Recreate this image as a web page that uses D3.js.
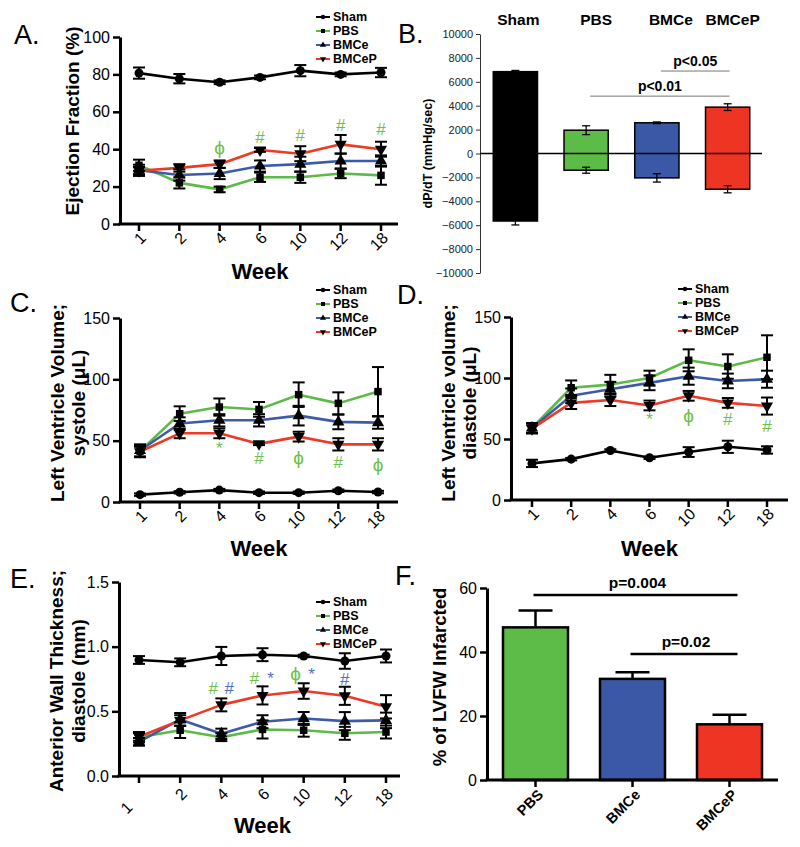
<!DOCTYPE html>
<html>
<head>
<meta charset="utf-8">
<script src="https://cdn.jsdelivr.net/npm/d3@7"></script>
<style>
  body { margin: 0; background: #fff; }
  svg { display: block; font-family: "Liberation Sans", Arial, sans-serif; }
</style>
</head>
<body>
<svg width="800" height="847"></svg>
<script>
const weeks = ['1', '2', '4', '6', '10', '12', '18'];
const groups = ['Sham', 'PBS', 'BMCe', 'BMCeP'];

// A. ejection fraction (%), rows follow groups
const efMean = [
  [80.7, 77.7, 75.8, 78.4, 82, 80, 81],
  [31.4, 22, 18.5, 25, 25, 27, 26],
  [28.7, 26.2, 27, 31, 32, 33.7, 33.7],
  [28.5, 30, 32, 39.6, 37.6, 42.6, 40]
];
const efErr = [
  [3, 2.5, 1, 1, 3, 1, 2.5],
  [3, 3, 1.5, 2.5, 3, 2.5, 5],
  [3, 3, 3, 3, 4, 4, 3],
  [2, 2, 2, 1, 4, 5, 4]
];
const efTicks = [0, 20, 40, 60, 80, 100];
const efMarks = [['4', 41, 'ϕ', 'g'], ['6', 46.5, '#', 'g'], ['10', 47.4, '#', 'g'], ['12', 52.8, '#', 'g'], ['18', 51, '#', 'g']];

// C. LV volume, systole (uL)
const lvsMean = [
  [6, 7.9, 9.7, 7.6, 7.6, 9.2, 8.1],
  [41.5, 72, 77.4, 75.5, 87.5, 80.4, 90],
  [42, 64, 66.6, 66.6, 70.4, 65.3, 64.7],
  [41, 56, 56, 47.4, 53.3, 47, 47]
];
const lvsErr = [
  [1, 1, 1, 1, 1, 1, 1],
  [5, 6, 7, 6, 10, 9, 20],
  [5, 5, 5, 5, 8, 6, 5],
  [4, 4, 4, 1, 4, 5, 5]
];
const lvsTicks = [0, 50, 100, 150];
const lvsMarks = [['4', 43.9, '*', 'g'], ['6', 35.7, '#', 'g'], ['10', 36.5, 'ϕ', 'g'], ['12', 32.2, '#', 'g'], ['18', 30.3, 'ϕ', 'g']];

// D. LV volume, diastole (uL)
const lvdMean = [
  [30, 33.5, 40.6, 34.6, 39.3, 43.6, 41],
  [59, 92, 94.6, 100, 114.5, 109.4, 117],
  [59, 85.4, 90.8, 96, 101.5, 97.6, 99],
  [58.5, 79.6, 82, 77.5, 85.4, 79.6, 77]
];
const lvdErr = [
  [3, 1, 1, 1, 4, 5, 3],
  [4, 6, 8, 6, 9, 10, 18],
  [4, 6, 6, 6, 7, 6, 7],
  [4, 5, 5, 4, 4, 4, 7]
];
const lvdTicks = [0, 50, 100, 150];
const lvdMarks = [['6', 66, '*', 'g'], ['10', 69, 'ϕ', 'g'], ['12', 66.3, '#', 'g'], ['18', 60.5, '#', 'g']];

// E. anterior wall thickness, diastole (mm)
const awMean = [
  [0.897, 0.879, 0.928, 0.938, 0.928, 0.889, 0.928],
  [0.3, 0.354, 0.3, 0.36, 0.354, 0.33, 0.34],
  [0.264, 0.437, 0.326, 0.42, 0.445, 0.424, 0.43],
  [0.303, 0.43, 0.55, 0.623, 0.657, 0.62, 0.535]
];
const awErr = [
  [0.03, 0.03, 0.07, 0.05, 0.01, 0.06, 0.05],
  [0.04, 0.06, 0.03, 0.07, 0.05, 0.05, 0.05],
  [0.03, 0.05, 0.04, 0.05, 0.05, 0.07, 0.06],
  [0.03, 0.04, 0.05, 0.07, 0.06, 0.07, 0.09]
];
const awTicks = [0, 0.5, 1.0, 1.5];
const awMarks = [
  ['4', 0.683, '#', 'g', -8], ['4', 0.683, '#', 'b', 8],
  ['6', 0.755, '#', 'g', -8], ['6', 0.755, '*', 'b', 8],
  ['10', 0.79, 'ϕ', 'g', -8], ['10', 0.79, '*', 'b', 8],
  ['12', 0.75, '#', 'b', 0]
];

// B. dP/dT (mmHg/sec)
const dpMax = [6850, 1950, 2570, 3880];
const dpMaxErr = [100, 370, 70, 280];
const dpMin = [-5650, -1400, -2040, -2990];
const dpMinErr = [330, 250, 350, 300];
const dpTicks = [-10000, -8000, -6000, -4000, -2000, 0, 2000, 4000, 6000, 8000, 10000];
const dpSig = [['BMCe', 'BMCeP', 'p<0.05', 6900], ['PBS', 'BMCeP', 'p<0.01', 4800]];

// F. % of LVFW infarcted
const infGroups = ['PBS', 'BMCe', 'BMCeP'];
const infMean = [47.7, 31.6, 17.4];
const infErr = [5.3, 2.1, 3.0];
const infTicks = [0, 20, 40, 60];
const infSig = [['PBS', 'BMCeP', 'p=0.004', 57.8], ['BMCe', 'BMCeP', 'p=0.02', 39.4]];

const lineColors = ['#000000', '#5cba47', '#3b5aa8', '#ec3a25'];
const barColors = ['#000000', '#5dbb47', '#3b58a6', '#ee3524'];
const markColors = { g: '#6cc04d', b: '#5070c4' };
const symbols = [d3.symbolCircle, d3.symbolSquare, d3.symbolTriangle, d3.symbolTriangle];
const symRot = [0, 0, 0, 180];

const svg = d3.select('svg');

const drawLinePanel = p => {
    const g = svg.append('g');
    const x = d3.scalePoint().domain(weeks).range(p.xRange);
    const y = d3.scaleLinear().domain(p.yDomain).range(p.yRange);
    const y0 = p.yRange[0];

    // y axis
    const ya = g.append('g')
            .attr('transform', `translate(${p.axisX},0)`)
            .call(d3.axisLeft(y).tickValues(p.yTicks).tickFormat(p.fmt).tickSize(7).tickSizeOuter(0));
    ya.select('.domain').attr('stroke-width', 3);
    ya.selectAll('.tick line').attr('stroke-width', 2.5);
    ya.selectAll('.tick text')
            .attr('font-size', 16)
            .attr('font-family', '"Liberation Sans", Arial, sans-serif');

    // x axis
    g.append('line')
            .attr('x1', p.axisX - 1.5).attr('x2', p.axisEnd)
            .attr('y1', y0).attr('y2', y0)
            .attr('stroke', '#000').attr('stroke-width', 3);
    g.selectAll('.xt').data(weeks).enter().append('line')
            .attr('x1', d => x(d)).attr('x2', d => x(d))
            .attr('y1', y0).attr('y2', y0 + 7)
            .attr('stroke', '#000').attr('stroke-width', 2.5);
    g.selectAll('.xl').data(weeks).enter().append('text')
            .attr('transform', d => `translate(${x(d) + 4},${y0 + p.labelDrop}) rotate(-45)`)
            .attr('text-anchor', 'end')
            .attr('dy', '0.35em')
            .attr('dx', (d, i) => (i === 0 ? p.firstShift || 0 : 0))
            .attr('font-size', 16)
            .text(d => d);

    g.append('text')
            .attr('x', (p.xRange[0] + p.xRange[1]) / 2)
            .attr('y', p.weekY)
            .attr('text-anchor', 'middle')
            .attr('font-size', 22).attr('font-weight', 'bold')
            .text('Week');

    // y title
    p.title.forEach((t, i) => {
        g.append('text')
                .attr('transform', `translate(${p.titleX[i]},${p.titleY}) rotate(-90)`)
                .attr('text-anchor', 'middle')
                .attr('dy', '0.35em')
                .attr('font-size', 19).attr('font-weight', 'bold')
                .text(t);
    });

    // lines
    const line = d3.line().x((d, j) => x(weeks[j])).y(d => y(d));
    p.means.forEach((m, i) => {
        g.append('path').datum(m)
                .attr('fill', 'none')
                .attr('stroke', lineColors[i])
                .attr('stroke-width', 2.6)
                .attr('stroke-linejoin', 'round')
                .attr('d', line);
    });

    // error bars and markers
    p.means.forEach((m, i) => {
        const eb = g.append('g').attr('stroke', '#000').attr('stroke-width', 2);
        m.forEach((v, j) => {
            const e = p.errs[i][j], cx = x(weeks[j]);
            eb.append('line').attr('x1', cx).attr('x2', cx).attr('y1', y(v - e)).attr('y2', y(v + e));
            [v - e, v + e].forEach(t => {
                eb.append('line').attr('x1', cx - 6).attr('x2', cx + 6).attr('y1', y(t)).attr('y2', y(t));
            });
        });
        g.selectAll(null).data(m).enter().append('path')
                .attr('d', d3.symbol().type(symbols[i]).size(i === 1 ? 56 : 64))
                .attr('transform', (d, j) => `translate(${x(weeks[j])},${y(d)}) rotate(${symRot[i]})`)
                .attr('fill', '#000');
    });

    // significance marks
    g.selectAll('.mk').data(p.marks).enter().append('text')
            .attr('x', d => x(d[0]) + (d[4] || 0))
            .attr('y', d => y(d[1]))
            .attr('dy', '0.35em')
            .attr('text-anchor', 'middle')
            .attr('font-size', d => (d[2] === 'ϕ' ? 19 : 17))
            .attr('fill', d => markColors[d[3]])
            .text(d => d[2]);

    // legend
    const lg = g.append('g').attr('transform', `translate(${p.legend[0]},${p.legend[1]})`);
    groups.forEach((name, i) => {
        const ly = i * 14;
        lg.append('line').attr('x1', 0).attr('x2', 14).attr('y1', ly).attr('y2', ly)
                .attr('stroke', lineColors[i]).attr('stroke-width', 2);
        lg.append('path')
                .attr('d', d3.symbol().type(symbols[i]).size(16))
                .attr('transform', `translate(7,${ly}) rotate(${symRot[i]})`);
        lg.append('text').attr('x', 17).attr('y', ly).attr('dy', '0.35em')
                .attr('font-size', 12.5).attr('font-weight', 'bold')
                .text(name);
    });

    svg.append('text')
            .attr('x', p.letter[0]).attr('y', p.letter[1])
            .attr('font-size', 27)
            .text(p.letter[2]);
};

drawLinePanel({
    xRange: [139, 381], yDomain: [0, 100], yRange: [224, 37], axisX: 120, axisEnd: 398,
    yTicks: efTicks, fmt: d3.format('d'), means: efMean, errs: efErr, marks: efMarks,
    labelDrop: 11, weekY: 279, title: ['Ejection Fraction (%)'], titleX: [72], titleY: 121,
    legend: [316, 17], letter: [14, 44, 'A.']
});

drawLinePanel({
    xRange: [140, 378], yDomain: [0, 150], yRange: [502, 318], axisX: 120, axisEnd: 398,
    yTicks: lvsTicks, fmt: d3.format('d'), means: lvsMean, errs: lvsErr, marks: lvsMarks,
    labelDrop: 11, weekY: 556, title: ['Left Ventricle Volume;', 'systole (μL)'], titleX: [57, 78], titleY: 403,
    legend: [316, 290], letter: [10, 312, 'C.']
});

drawLinePanel({
    xRange: [532, 767], yDomain: [0, 150], yRange: [500, 317], axisX: 511, axisEnd: 788,
    yTicks: lvdTicks, fmt: d3.format('d'), means: lvdMean, errs: lvdErr, marks: lvdMarks,
    labelDrop: 11, weekY: 556, title: ['Left Ventricle volume;', 'diastole (μL)'], titleX: [448, 469], titleY: 403,
    legend: [678, 289], letter: [397, 304, 'D.']
});

drawLinePanel({
    xRange: [139, 386], yDomain: [0, 1.5], yRange: [776, 582], axisX: 119, axisEnd: 400,
    yTicks: awTicks, fmt: d3.format('.1f'), means: awMean, errs: awErr, marks: awMarks,
    labelDrop: 15, firstShift: -19, weekY: 833, title: ['Anterior Wall Thickness;', 'diastole (mm)'], titleX: [56, 78], titleY: 681,
    legend: [316, 602], letter: [10, 588, 'E.']
});

// ---- B. dP/dT bars
(() => {
    const g = svg.append('g');
    const x = d3.scaleBand().domain(groups).range([480, 763]).paddingInner(0.375).paddingOuter(0.1875);
    const y = d3.scaleLinear().domain([-10000, 10000]).range([273, 34]);

    const ya = g.append('g').attr('transform', 'translate(480,0)')
            .call(d3.axisLeft(y).tickValues(dpTicks).tickFormat(d3.format('d')).tickSize(4).tickSizeOuter(0));
    ya.select('.domain').attr('stroke', '#333').attr('stroke-width', 1);
    ya.selectAll('.tick line').attr('stroke', '#333');
    ya.selectAll('.tick text')
            .attr('font-size', 11)
            .attr('font-family', '"Liberation Sans", Arial, sans-serif')
            .attr('fill', '#222');

    g.selectAll('.bar').data(groups).enter().append('rect')
            .attr('x', d => x(d))
            .attr('width', x.bandwidth())
            .attr('y', (d, i) => y(dpMax[i]))
            .attr('height', (d, i) => y(dpMin[i]) - y(dpMax[i]))
            .attr('fill', (d, i) => barColors[i])
            .attr('stroke', '#000').attr('stroke-width', 1.5);

    const eb = g.append('g').attr('stroke', '#000').attr('stroke-width', 1.3);
    groups.forEach((d, i) => {
        const cx = x(d) + x.bandwidth() / 2;
        [[dpMax[i], dpMaxErr[i]], [dpMin[i], dpMinErr[i]]].forEach(([v, e]) => {
            eb.append('line').attr('x1', cx).attr('x2', cx).attr('y1', y(v - e)).attr('y2', y(v + e));
            [v - e, v + e].forEach(t => {
                eb.append('line').attr('x1', cx - 4).attr('x2', cx + 4).attr('y1', y(t)).attr('y2', y(t));
            });
        });
    });

    g.append('line').attr('x1', 480).attr('x2', 762).attr('y1', y(0)).attr('y2', y(0))
            .attr('stroke', '#000').attr('stroke-width', 1.5);

    g.selectAll('.cat').data(groups).enter().append('text')
            .attr('x', (d, i) => x(d) + x.bandwidth() / 2 + [3, 10, 14, 5][i])
            .attr('y', 25)
            .attr('text-anchor', 'middle')
            .attr('font-size', 15.5).attr('font-weight', 'bold')
            .text(d => d);

    dpSig.forEach(([a, b, label, v]) => {
        const x1 = x(a) + x.bandwidth() / 2 + 4, x2 = x(b) + x.bandwidth() / 2 + 2;
        g.append('line').attr('x1', x1).attr('x2', x2).attr('y1', y(v)).attr('y2', y(v))
                .attr('stroke', '#777').attr('stroke-width', 1);
        g.append('text').attr('x', (x1 + x2) / 2).attr('y', y(v) - 5)
                .attr('text-anchor', 'middle')
                .attr('font-size', 14).attr('font-weight', 'bold')
                .text(label);
    });

    g.append('text')
            .attr('transform', `translate(428,${y(0)}) rotate(-90)`)
            .attr('text-anchor', 'middle').attr('dy', '0.35em')
            .attr('font-size', 12.5).attr('font-weight', 'bold')
            .text('dP/dT (mmHg/sec)');

    svg.append('text').attr('x', 398).attr('y', 43).attr('font-size', 27).text('B.');
})();

// ---- F. infarct size bars
(() => {
    const g = svg.append('g');
    const x = d3.scaleBand().domain(infGroups).range([487, 778]).paddingInner(0.33).paddingOuter(0.165);
    const y = d3.scaleLinear().domain([0, 60]).range([780, 588]);
    const cx = d => x(d) + x.bandwidth() / 2;

    g.selectAll('.bar').data(infGroups).enter().append('rect')
            .attr('x', d => x(d))
            .attr('width', x.bandwidth())
            .attr('y', (d, i) => y(infMean[i]))
            .attr('height', (d, i) => y(0) - y(infMean[i]))
            .attr('fill', (d, i) => barColors[i + 1])
            .attr('stroke', '#000').attr('stroke-width', 2.5);

    const eb = g.append('g').attr('stroke', '#000').attr('stroke-width', 2.5);
    infGroups.forEach((d, i) => {
        const top = y(infMean[i] + infErr[i]);
        eb.append('line').attr('x1', cx(d)).attr('x2', cx(d)).attr('y1', y(infMean[i])).attr('y2', top);
        eb.append('line').attr('x1', cx(d) - 17).attr('x2', cx(d) + 17).attr('y1', top).attr('y2', top);
    });

    const ya = g.append('g').attr('transform', 'translate(487,0)')
            .call(d3.axisLeft(y).tickValues(infTicks).tickSize(7).tickSizeOuter(0));
    ya.select('.domain').attr('stroke-width', 3);
    ya.selectAll('.tick line').attr('stroke-width', 2.5);
    ya.selectAll('.tick text')
            .attr('font-size', 16)
            .attr('font-family', '"Liberation Sans", Arial, sans-serif');

    g.append('line').attr('x1', 485.5).attr('x2', 778).attr('y1', 780).attr('y2', 780)
            .attr('stroke', '#000').attr('stroke-width', 3);
    g.selectAll('.xt').data(infGroups).enter().append('line')
            .attr('x1', cx).attr('x2', cx).attr('y1', 780).attr('y2', 787)
            .attr('stroke', '#000').attr('stroke-width', 2.5);
    g.selectAll('.xl').data(infGroups).enter().append('text')
            .attr('transform', d => `translate(${cx(d) + 5},${792}) rotate(-45)`)
            .attr('text-anchor', 'end').attr('dy', '0.35em')
            .attr('font-size', 14.5).attr('font-weight', 'bold')
            .text(d => d);

    infSig.forEach(([a, b, label, v]) => {
        const x1 = cx(a) - 2, x2 = cx(b) + 8;
        g.append('line').attr('x1', x1).attr('x2', x2).attr('y1', y(v)).attr('y2', y(v))
                .attr('stroke', '#000').attr('stroke-width', 2.5);
        g.append('text').attr('x', (x1 + x2) / 2 + 2).attr('y', y(v) - 7)
                .attr('text-anchor', 'middle')
                .attr('font-size', 15.5).attr('font-weight', 'bold')
                .text(label);
    });

    g.append('text')
            .attr('transform', 'translate(440,677) rotate(-90)')
            .attr('text-anchor', 'middle').attr('dy', '0.35em')
            .attr('font-size', 18.5).attr('font-weight', 'bold')
            .text('% of LVFW Infarcted');

    svg.append('text').attr('x', 395).attr('y', 585).attr('font-size', 27).text('F.');
})();
</script>
</body>
</html>
